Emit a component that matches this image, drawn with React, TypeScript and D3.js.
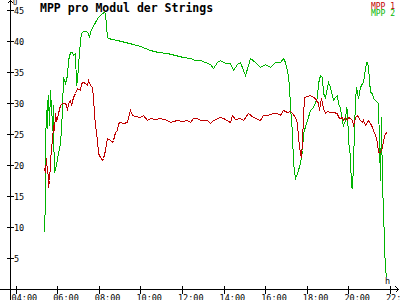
import React from "react";
import * as d3 from "d3";

const title = "MPP pro Modul der Strings";
const seriesNames = ["MPP 1", "MPP 2"];
const xTickHours = [4, 6, 8, 10, 12, 14, 16, 18, 20, 22];
const xTickLabels = ["04:00", "06:00", "08:00", "10:00", "12:00", "14:00", "16:00", "18:00", "20:00", "22:00"];
const yTicks = [5, 10, 15, 20, 25, 30, 35, 40, 45];

const mpp1Hours = [5.37, 5.41, 5.46, 5.49, 5.56, 5.58, 5.61, 5.65, 5.68, 5.75, 5.80, 5.85, 5.89, 5.94, 5.99, 6.04, 6.13, 6.23, 6.33, 6.42, 6.47, 6.52, 6.62, 6.66, 6.76, 6.86, 6.95, 7.10, 7.14, 7.24, 7.34, 7.43, 7.48, 7.58, 7.67, 7.72, 7.77, 7.82, 7.91, 7.96, 8.06, 8.15, 8.20, 8.30, 8.39, 8.54, 8.64, 8.68, 8.78, 8.88, 8.92, 9.02, 9.16, 9.36, 9.40, 9.50, 9.60, 9.74, 9.98, 10.13, 10.32, 10.46, 10.70, 10.94, 11.28, 11.42, 11.57, 11.76, 12.00, 12.24, 12.39, 12.53, 12.72, 12.87, 13.20, 13.35, 13.49, 13.83, 13.97, 14.31, 14.40, 14.55, 14.79, 14.93, 15.17, 15.41, 15.75, 15.89, 16.09, 16.38, 16.57, 16.71, 16.86, 17.05, 17.19, 17.29, 17.43, 17.53, 17.58, 17.67, 17.72, 17.77, 17.82, 17.87, 18.01, 18.15, 18.30, 18.39, 18.49, 18.54, 18.59, 18.68, 18.73, 18.78, 18.88, 18.97, 19.12, 19.26, 19.45, 19.50, 19.60, 19.69, 19.74, 19.84, 19.93, 19.98, 20.08, 20.17, 20.22, 20.27, 20.32, 20.41, 20.46, 20.56, 20.65, 20.70, 20.80, 20.89, 20.94, 21.04, 21.13, 21.18, 21.28, 21.38, 21.42, 21.52, 21.62, 21.66, 21.76, 21.86];
const mpp1Volts = [19.6, 18.9, 21.2, 18.9, 18.4, 16.5, 17.6, 20.4, 22.9, 24.1, 26.5, 25.7, 28.4, 27.3, 27.6, 28.4, 29.7, 30.0, 30.0, 29.9, 28.9, 30.0, 30.5, 29.7, 31.0, 31.6, 32.4, 32.1, 33.2, 33.4, 33.2, 32.9, 33.7, 32.9, 32.6, 31.0, 28.4, 26.5, 24.1, 22.0, 21.3, 20.8, 21.2, 22.5, 24.4, 24.1, 23.7, 24.1, 25.4, 25.7, 26.8, 27.0, 26.8, 27.0, 27.8, 28.9, 28.1, 27.9, 27.8, 28.1, 27.3, 27.6, 27.4, 27.6, 27.3, 27.0, 27.1, 27.3, 27.1, 27.3, 27.0, 27.6, 27.6, 27.3, 27.3, 26.8, 27.3, 27.8, 27.6, 27.0, 28.1, 27.4, 27.6, 27.3, 28.4, 27.8, 27.3, 28.1, 28.1, 28.4, 28.4, 28.1, 28.9, 28.6, 28.7, 28.4, 27.8, 26.8, 24.5, 22.0, 21.3, 24.1, 27.8, 31.0, 31.2, 31.3, 31.0, 30.8, 30.2, 30.2, 28.9, 30.8, 30.2, 29.2, 28.4, 28.7, 28.6, 28.6, 28.4, 27.8, 27.6, 27.8, 27.3, 27.8, 27.3, 27.8, 27.6, 27.3, 26.5, 27.0, 27.8, 28.1, 27.8, 27.3, 27.0, 27.3, 26.5, 27.0, 27.3, 26.8, 26.2, 25.7, 24.9, 23.7, 22.1, 22.1, 22.9, 24.1, 25.2, 25.4];

const mpp2Hours = [5.37, 5.39, 5.41, 5.46, 5.49, 5.51, 5.56, 5.61, 5.65, 5.68, 5.70, 5.75, 5.80, 5.82, 5.85, 5.94, 6.04, 6.13, 6.18, 6.23, 6.28, 6.38, 6.47, 6.52, 6.62, 6.71, 6.76, 6.86, 6.90, 6.95, 7.00, 7.10, 7.14, 7.24, 7.38, 7.48, 7.53, 7.58, 7.67, 7.77, 7.87, 7.96, 8.06, 8.15, 8.25, 8.30, 8.35, 8.39, 8.44, 8.64, 8.88, 9.26, 9.64, 9.98, 10.46, 10.85, 11.28, 11.66, 12.05, 12.38, 12.63, 12.87, 13.11, 13.35, 13.49, 13.68, 13.83, 14.07, 14.31, 14.45, 14.64, 14.79, 15.03, 15.17, 15.27, 15.51, 15.75, 15.99, 16.23, 16.47, 16.71, 16.86, 16.95, 17.05, 17.14, 17.19, 17.29, 17.34, 17.43, 17.53, 17.67, 17.77, 17.82, 18.01, 18.15, 18.30, 18.49, 18.54, 18.64, 18.73, 18.78, 18.88, 18.97, 19.02, 19.12, 19.26, 19.36, 19.45, 19.50, 19.60, 19.69, 19.74, 19.84, 19.88, 19.93, 19.98, 20.08, 20.13, 20.17, 20.22, 20.27, 20.32, 20.37, 20.46, 20.56, 20.65, 20.70, 20.75, 20.85, 20.89, 20.94, 21.04, 21.13, 21.18, 21.38, 21.42, 21.47, 21.52, 21.57, 21.62, 21.66, 21.69, 21.74, 21.81];
const mpp2Volts = [9.3, 14.7, 24.9, 27.3, 30.5, 26.0, 31.3, 26.5, 32.1, 28.1, 30.5, 25.7, 29.7, 25.7, 18.9, 20.0, 22.0, 23.6, 26.0, 28.9, 34.2, 33.2, 34.5, 36.9, 38.2, 38.2, 37.7, 38.0, 32.9, 33.7, 36.1, 40.2, 41.3, 41.6, 41.6, 41.3, 40.6, 41.4, 42.2, 42.7, 43.4, 43.9, 44.2, 44.5, 44.7, 44.5, 42.6, 40.6, 40.5, 40.3, 40.2, 39.9, 39.6, 39.2, 38.5, 38.3, 38.0, 37.7, 37.4, 37.3, 36.9, 36.9, 36.6, 36.3, 35.7, 36.6, 36.9, 36.5, 36.5, 35.3, 36.3, 36.6, 34.5, 36.1, 37.3, 36.6, 35.8, 36.3, 35.8, 36.6, 36.6, 37.3, 36.6, 35.3, 32.9, 29.4, 25.2, 20.4, 18.0, 18.8, 20.4, 22.5, 25.2, 27.3, 28.9, 29.4, 31.0, 33.2, 34.5, 34.2, 31.6, 31.0, 32.6, 33.4, 32.6, 30.5, 31.0, 31.3, 30.0, 29.2, 27.0, 26.5, 27.3, 29.2, 28.9, 24.1, 21.3, 16.5, 16.3, 20.4, 25.7, 30.5, 32.6, 30.8, 32.6, 33.2, 33.4, 34.5, 36.6, 36.6, 35.8, 31.8, 31.6, 30.8, 30.2, 30.0, 23.5, 17.6, 27.8, 16.0, 13.6, 6.8, 3.6, 2.0];

const colors = ["#c00000", "#00b400"];
const W = 400;
const H = 300;
const font = "'DejaVu Sans Mono', monospace";

export default function App() {
  const x = d3.scaleLinear().domain([4, 22]).range([15.6, 390]);
  const y = d3.scaleLinear().domain([0, 45]).range([289.5, 10]);
  const line = d3
    .line<[number, number]>()
    .x((d) => Math.round(x(d[0])) + 0.5)
    .y((d) => Math.round(y(d[1])) + 0.5);
  const s1 = mpp1Hours.map((h, i) => [h, mpp1Volts[i]] as [number, number]);
  const s2 = mpp2Hours.map((h, i) => [h, mpp2Volts[i]] as [number, number]);
  const axisX = 10.5;
  const axisY = 289.5;

  return (
    <div style={{ position: "fixed", left: 0, top: 0, width: W, height: H, background: "#fff" }}>
      <svg width={W} height={H} style={{ display: "block" }}>
        <rect x={0} y={0} width={W} height={H} fill="#fff" />
        <path d={line(s2) || ""} fill="none" stroke={colors[1]} strokeWidth={1} shapeRendering="crispEdges" />
        <path d={line(s1) || ""} fill="none" stroke={colors[0]} strokeWidth={1} shapeRendering="crispEdges" />
        {/* axes */}
        <g stroke="#000" strokeWidth={1} shapeRendering="crispEdges" fill="none">
          <line x1={axisX} y1={0} x2={axisX} y2={H} />
          <line x1={0} y1={axisY} x2={398} y2={axisY} />
          <path d={`M${axisX - 3},3.5 L${axisX},0.5 L${axisX + 3},3.5`} />
          <path d={`M395.5,${axisY - 3} L398.5,${axisY} L395.5,${axisY + 3}`} />
          {yTicks.map((t) => (
            <line key={"yt" + t} x1={7} x2={14} y1={Math.round(y(t)) + 0.5} y2={Math.round(y(t)) + 0.5} />
          ))}
          {xTickHours.map((h) => (
            <line key={"xt" + h} x1={Math.round(x(h)) + 0.5} x2={Math.round(x(h)) + 0.5} y1={286} y2={294} />
          ))}
        </g>
        <g fontFamily={font} fontSize={8.5} fill="#000">
          {yTicks.map((t) => (
            <text key={"yl" + t} x={14} y={Math.round(y(t)) + 1} dominantBaseline="middle">
              {t}
            </text>
          ))}
          {xTickHours.map((h, i) => (
            <text key={"xl" + h} x={x(h) - 4} y={301}>
              {xTickLabels[i]}
            </text>
          ))}
          <text x={13} y={5} fontSize={7}>U</text>
          <text x={385} y={284} fontSize={8.5}>h</text>
        </g>
        <text x={40} y={11.5} fontFamily={font} fontSize={11.5} fontWeight="bold" fill="#000">
          {title}
        </text>
        <g fontFamily={font} fontSize={8} textAnchor="end">
          <text x={395} y={8.5} fill={colors[0]}>{seriesNames[0]}</text>
          <text x={395} y={16} fill={colors[1]}>{seriesNames[1]}</text>
        </g>
      </svg>
    </div>
  );
}
